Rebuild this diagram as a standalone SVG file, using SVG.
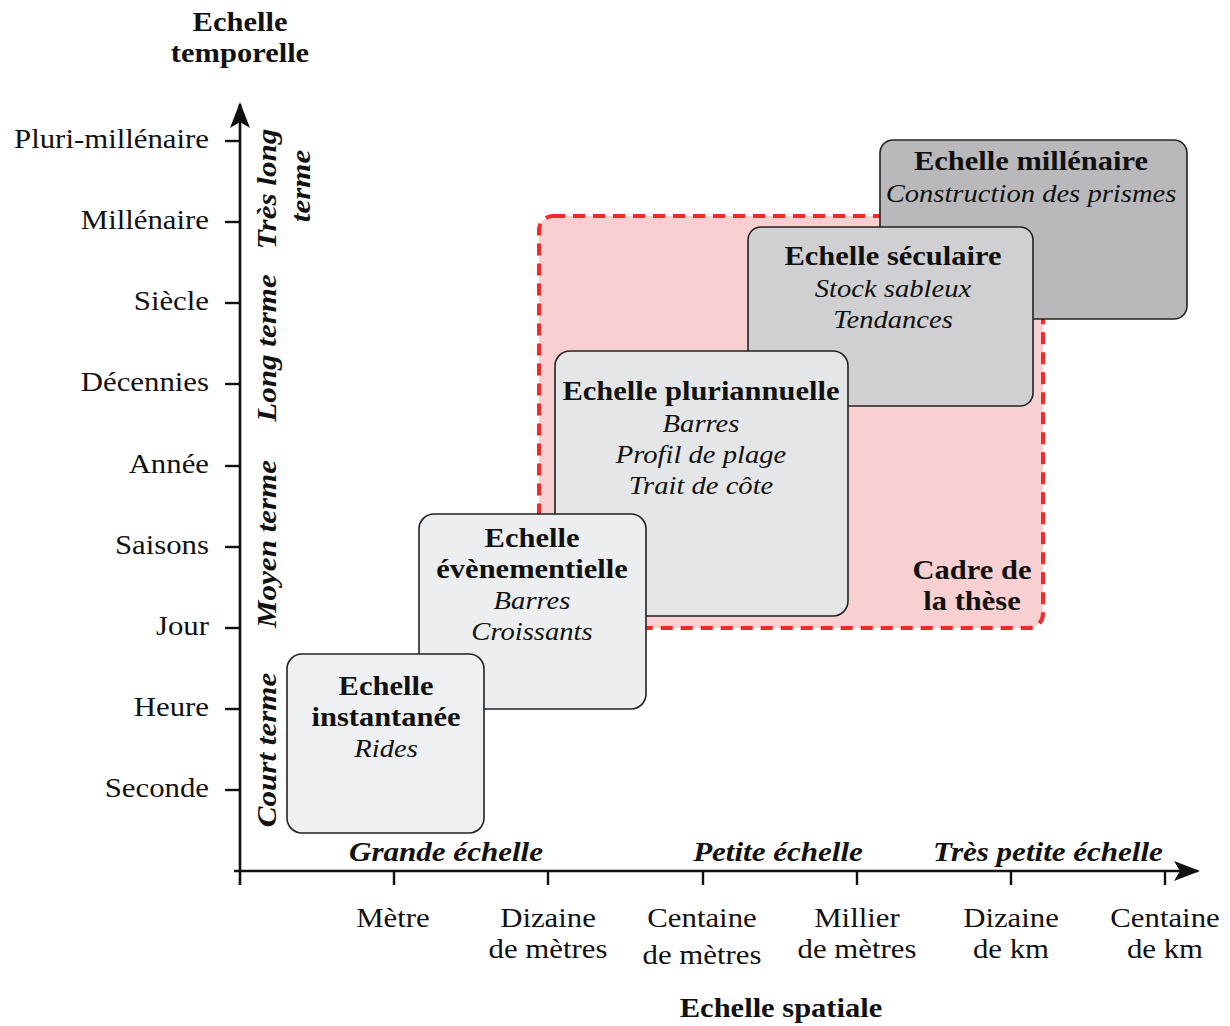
<svg xmlns="http://www.w3.org/2000/svg" width="1230" height="1026" viewBox="0 0 1230 1026">
<style>
text{font-family:"Liberation Serif","Times New Roman",serif;fill:#111;}
.t{font-size:27px;font-weight:bold;text-anchor:middle;}
.i{font-size:26px;font-style:italic;text-anchor:middle;}
.lab{font-size:28px;text-anchor:end;}
.xl{font-size:28px;text-anchor:middle;}
.bi{font-size:27px;font-style:italic;font-weight:bold;text-anchor:middle;}
.box{stroke:#222;stroke-width:1.6;}
.ax{stroke:#111;stroke-width:2.6;fill:none;}
</style>
<defs>
<marker id="arr" viewBox="0 0 26 20" refX="24" refY="10" markerWidth="26" markerHeight="20" markerUnits="userSpaceOnUse" orient="auto">
<path d="M0,0 L26,10 L0,20 L6,10 Z" fill="#111"/>
</marker>
</defs>
<rect width="1230" height="1026" fill="#fff"/>

<g id="cadre">
<rect x="539" y="216" width="504" height="412" rx="14" fill="#f8d0d1" stroke="#ee2a2a" stroke-width="4" stroke-dasharray="12,8"/>
<text class="t" transform="translate(972,579) scale(1.13,1)">Cadre de</text>
<text class="t" transform="translate(972,610) scale(1.13,1)">la thèse</text>
</g>

<g id="millenaire">
<rect class="box" x="880" y="140" width="307" height="179" rx="13" fill="#b9b9bb"/>
<text class="t" transform="translate(1031,170) scale(1.13,1)">Echelle millénaire</text>
<text class="i" transform="translate(1031,202) scale(1.1,1)">Construction des prismes</text>
</g>

<g id="seculaire">
<rect class="box" x="748" y="227" width="285" height="179" rx="13" fill="#d0d0d2"/>
<text class="t" transform="translate(893,265) scale(1.13,1)">Echelle séculaire</text>
<text class="i" transform="translate(893,297) scale(1.1,1)">Stock sableux</text>
<text class="i" transform="translate(893,328) scale(1.1,1)">Tendances</text>
</g>

<g id="pluriannuelle">
<rect class="box" x="555" y="351" width="293" height="265" rx="15" fill="#e5e6e7"/>
<text class="t" transform="translate(701,400) scale(1.13,1)">Echelle pluriannuelle</text>
<text class="i" transform="translate(701,432) scale(1.1,1)">Barres</text>
<text class="i" transform="translate(701,463) scale(1.1,1)">Profil de plage</text>
<text class="i" transform="translate(701,494) scale(1.1,1)">Trait de côte</text>
</g>

<g id="evenementielle">
<rect class="box" x="419" y="514" width="227" height="195" rx="15" fill="#eceeef"/>
<text class="t" transform="translate(532,547) scale(1.13,1)">Echelle</text>
<text class="t" transform="translate(532,578) scale(1.13,1)">évènementielle</text>
<text class="i" transform="translate(532,609) scale(1.1,1)">Barres</text>
<text class="i" transform="translate(532,640) scale(1.1,1)">Croissants</text>
</g>

<g id="instantanee">
<rect class="box" x="287" y="654" width="197" height="179" rx="15" fill="#eef0f2"/>
<text class="t" transform="translate(386,695) scale(1.13,1)">Echelle</text>
<text class="t" transform="translate(386,726) scale(1.13,1)">instantanée</text>
<text class="i" transform="translate(386,757) scale(1.1,1)">Rides</text>
</g>

<g id="connectors">
<line class="ax" x1="240" y1="885" x2="240" y2="104" marker-end="url(#arr)"/>
<line class="ax" x1="234" y1="871" x2="1198" y2="871" marker-end="url(#arr)"/>
<g stroke="#111" stroke-width="2.4">
<line x1="225" y1="141" x2="240" y2="141"/>
<line x1="225" y1="222" x2="240" y2="222"/>
<line x1="225" y1="303" x2="240" y2="303"/>
<line x1="225" y1="384" x2="240" y2="384"/>
<line x1="225" y1="466" x2="240" y2="466"/>
<line x1="225" y1="547" x2="240" y2="547"/>
<line x1="225" y1="628" x2="240" y2="628"/>
<line x1="225" y1="709" x2="240" y2="709"/>
<line x1="225" y1="790" x2="240" y2="790"/>
<line x1="394" y1="871" x2="394" y2="885"/>
<line x1="548" y1="871" x2="548" y2="885"/>
<line x1="703" y1="871" x2="703" y2="885"/>
<line x1="857" y1="871" x2="857" y2="885"/>
<line x1="1011" y1="871" x2="1011" y2="885"/>
<line x1="1165" y1="871" x2="1165" y2="885"/>
</g>
</g>

<g id="axis-y-labels">
<text class="t" transform="translate(240,31) scale(1.13,1)">Echelle</text>
<text class="t" transform="translate(240,62) scale(1.13,1)">temporelle</text>
<text class="lab" transform="translate(209,148) scale(1.1,1)">Pluri-millénaire</text>
<text class="lab" transform="translate(209,229) scale(1.1,1)">Millénaire</text>
<text class="lab" transform="translate(209,310) scale(1.1,1)">Siècle</text>
<text class="lab" transform="translate(209,391) scale(1.1,1)">Décennies</text>
<text class="lab" transform="translate(209,473) scale(1.1,1)">Année</text>
<text class="lab" transform="translate(209,554) scale(1.1,1)">Saisons</text>
<text class="lab" transform="translate(209,635) scale(1.1,1)">Jour</text>
<text class="lab" transform="translate(209,716) scale(1.1,1)">Heure</text>
<text class="lab" transform="translate(209,797) scale(1.1,1)">Seconde</text>
<text class="bi" transform="translate(276,189) rotate(-90) scale(1.15,1)">Très long</text>
<text class="bi" transform="translate(310,186) rotate(-90) scale(1.15,1)">terme</text>
<text class="bi" transform="translate(276,348) rotate(-90) scale(1.15,1)">Long terme</text>
<text class="bi" transform="translate(276,544) rotate(-90) scale(1.15,1)">Moyen terme</text>
<text class="bi" transform="translate(276,750) rotate(-90) scale(1.15,1)">Court terme</text>
</g>

<g id="axis-x-labels">
<text class="bi" transform="translate(446,861) scale(1.15,1)">Grande échelle</text>
<text class="bi" transform="translate(778,861) scale(1.15,1)">Petite échelle</text>
<text class="bi" transform="translate(1048,861) scale(1.15,1)">Très petite échelle</text>
<text class="xl" transform="translate(393,927) scale(1.1,1)">Mètre</text>
<text class="xl" transform="translate(548,927) scale(1.1,1)">Dizaine</text>
<text class="xl" transform="translate(548,958) scale(1.1,1)">de mètres</text>
<text class="xl" transform="translate(702,927) scale(1.1,1)">Centaine</text>
<text class="xl" transform="translate(702,964) scale(1.1,1)">de mètres</text>
<text class="xl" transform="translate(857,927) scale(1.1,1)">Millier</text>
<text class="xl" transform="translate(857,958) scale(1.1,1)">de mètres</text>
<text class="xl" transform="translate(1011,927) scale(1.1,1)">Dizaine</text>
<text class="xl" transform="translate(1011,958) scale(1.1,1)">de km</text>
<text class="xl" transform="translate(1165,927) scale(1.1,1)">Centaine</text>
<text class="xl" transform="translate(1165,958) scale(1.1,1)">de km</text>
<text class="t" transform="translate(781,1017) scale(1.13,1)">Echelle spatiale</text>
</g>
</svg>
